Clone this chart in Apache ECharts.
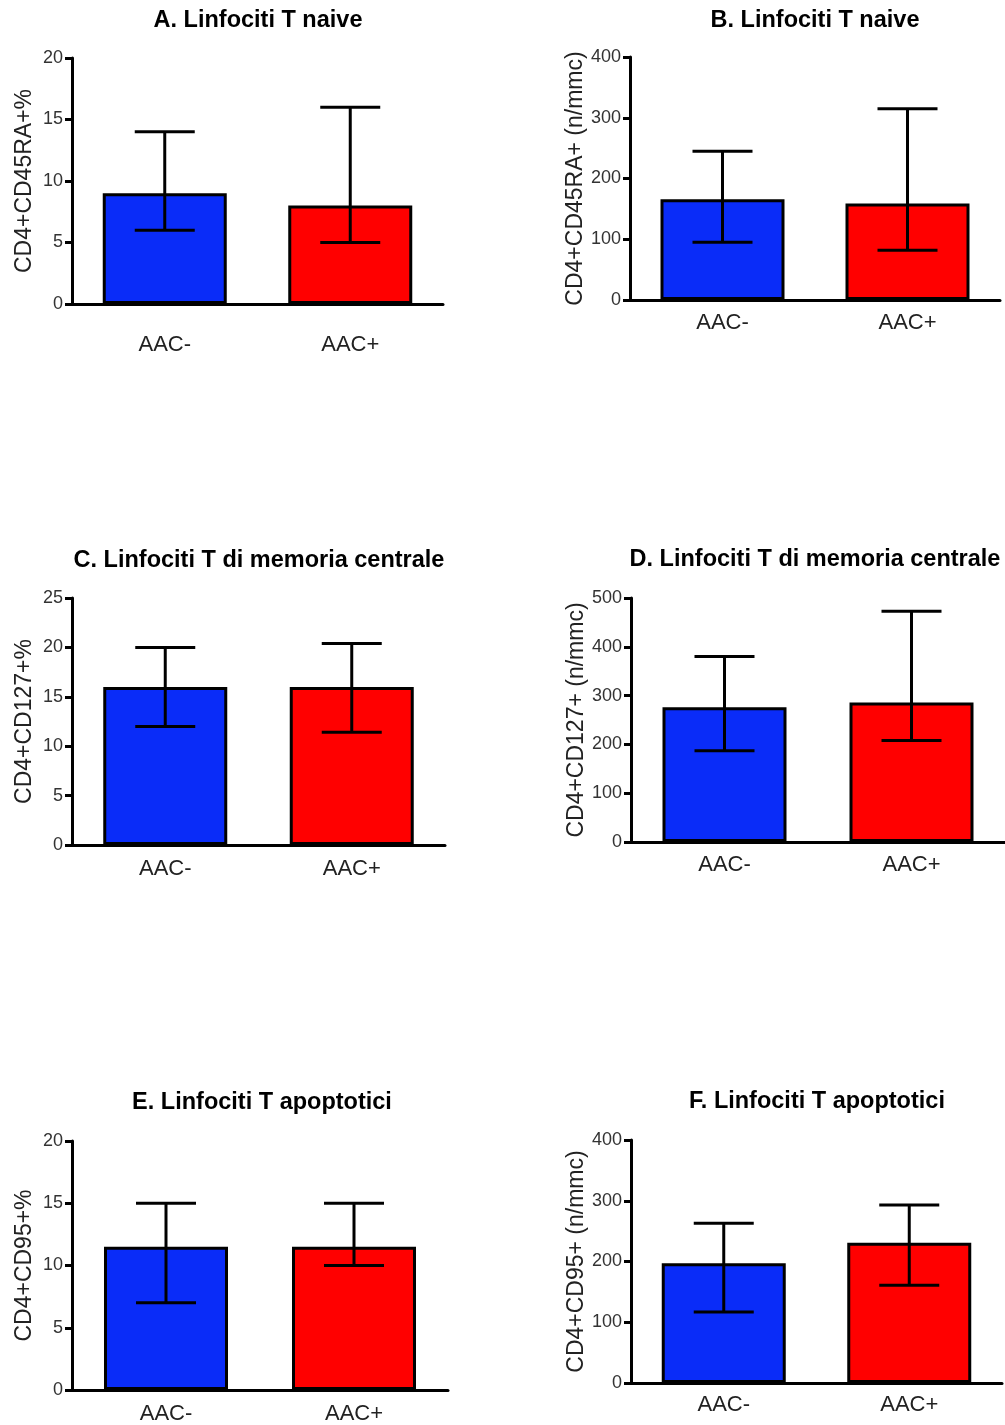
<!DOCTYPE html>
<html>
<head>
<meta charset="utf-8">
<script src="https://cdn.jsdelivr.net/npm/echarts@6/dist/echarts.min.js"></script>
<style>
  html, body { margin: 0; padding: 0; background: #fff; }
  #js-echarts { width: 1005px; height: 1425px; }
</style>
</head>
<body>
<div id="js-echarts"></div>
<script>
const categories = ['AAC-', 'AAC+'];

const titles = [
  'A. Linfociti T naive',
  'B. Linfociti T naive',
  'C. Linfociti T di memoria centrale',
  'D. Linfociti T di memoria centrale',
  'E. Linfociti T apoptotici',
  'F. Linfociti T apoptotici'
];
const yNames = [
  'CD4+CD45RA+%',
  'CD4+CD45RA+ (n/mmc)',
  'CD4+CD127+%',
  'CD4+CD127+ (n/mmc)',
  'CD4+CD95+%',
  'CD4+CD95+ (n/mmc)'
];
const yMax = [20, 400, 25, 500, 20, 400];
const yStep = [5, 100, 5, 100, 5, 100];

// bar height, lower and upper end of the error bar (AAC-, AAC+)
const barsA = [9, 8];
const lowA = [6, 5];
const highA = [14, 16];

const barsB = [166, 159];
const lowB = [95, 82];
const highB = [245, 315];

const barsC = [16, 16];
const lowC = [12, 11.4];
const highC = [20, 20.4];

const barsD = [276, 286];
const lowD = [187, 208];
const highD = [380, 473];

const barsE = [11.5, 11.5];
const lowE = [7, 10];
const highE = [15, 15];

const barsF = [197, 231];
const lowF = [117, 161];
const highF = [263, 293];

const panels = [
  { bars: barsA, low: lowA, high: highA },
  { bars: barsB, low: lowB, high: highB },
  { bars: barsC, low: lowC, high: highC },
  { bars: barsD, low: lowD, high: highD },
  { bars: barsE, low: lowE, high: highE },
  { bars: barsF, low: lowF, high: highF }
];

const theme = {
  blue: '#0a2cf8',
  red: '#ff0000',
  black: '#000000',
  text: '#222222',
  font: "'Liberation Sans', Arial, sans-serif"
};

// layout of each panel in pixels
const grids = [
  { left: 72, top: 58, width: 371, height: 246 },
  { left: 630, top: 57, width: 370, height: 243 },
  { left: 72, top: 598, width: 373, height: 247 },
  { left: 631, top: 598, width: 374, height: 244 },
  { left: 72, top: 1141, width: 376, height: 250 },
  { left: 631, top: 1140, width: 371, height: 243 }
];
const titlePos = [
  { x: 258, y: 9 }, { x: 815, y: 9 },
  { x: 259, y: 549 }, { x: 815, y: 548 },
  { x: 262, y: 1091 }, { x: 817, y: 1090 }
];
const nameGaps = [36, 41, 36, 41, 36, 41];
const catMargins = [30, 12, 13, 12, 13, 11];

const chartDom = document.getElementById('js-echarts');
const chart = echarts.init(chartDom);

const option = {
  animation: false,
  backgroundColor: '#fff',
  textStyle: { fontFamily: theme.font },
  title: titles.map((t, i) => ({
    text: t,
    left: titlePos[i].x,
    top: titlePos[i].y,
    textAlign: 'center',
    padding: 0,
    textStyle: {
      fontFamily: theme.font,
      fontWeight: 'bold',
      fontSize: 23.5,
      color: theme.black
    }
  })),
  grid: grids.map(g => Object.assign({ containLabel: false }, g)),
  xAxis: grids.map((g, i) => ({
    type: 'category',
    gridIndex: i,
    data: categories,
    axisLine: { lineStyle: { color: theme.black, width: 3 } },
    axisTick: { alignWithLabel: true, length: 8, lineStyle: { color: theme.black, width: 3 } },
    axisLabel: {
      margin: catMargins[i],
      fontSize: 22,
      color: theme.text,
      fontFamily: theme.font
    }
  })),
  yAxis: grids.map((g, i) => ({
    type: 'value',
    gridIndex: i,
    min: 0,
    max: yMax[i],
    interval: yStep[i],
    name: yNames[i],
    nameLocation: 'middle',
    nameRotate: 90,
    nameGap: nameGaps[i],
    nameTextStyle: { fontSize: 23, color: theme.text, fontFamily: theme.font },
    splitLine: { show: false },
    axisLine: { show: true, lineStyle: { color: theme.black, width: 3 } },
    axisTick: { show: true, length: 7, lineStyle: { color: theme.black, width: 3 } },
    axisLabel: { margin: 9, fontSize: 18, color: '#333', fontFamily: theme.font }
  })),
  series: []
};

panels.forEach((p, i) => {
  option.series.push({
    type: 'bar',
    xAxisIndex: i,
    yAxisIndex: i,
    barWidth: 124,
    data: p.bars.map((v, k) => ({
      value: v,
      itemStyle: {
        color: k === 0 ? theme.blue : theme.red,
        borderColor: theme.black,
        borderWidth: 3
      }
    })),
    z: 2
  });
  option.series.push({
    type: 'custom',
    xAxisIndex: i,
    yAxisIndex: i,
    z: 5,
    encode: { x: 0, y: [1, 2] },
    data: p.low.map((lo, k) => [k, lo, p.high[k]]),
    renderItem: (params, api) => {
      const x = api.value(0);
      const lo = api.coord([x, api.value(1)]);
      const hi = api.coord([x, api.value(2)]);
      const half = 30;
      const style = { stroke: theme.black, lineWidth: 3 };
      return {
        type: 'group',
        children: [
          { type: 'line', shape: { x1: hi[0], y1: hi[1], x2: lo[0], y2: lo[1] }, style },
          { type: 'line', shape: { x1: hi[0] - half, y1: hi[1], x2: hi[0] + half, y2: hi[1] }, style },
          { type: 'line', shape: { x1: lo[0] - half, y1: lo[1], x2: lo[0] + half, y2: lo[1] }, style }
        ]
      };
    }
  });
});

chart.setOption(option);
</script>
</body>
</html>
